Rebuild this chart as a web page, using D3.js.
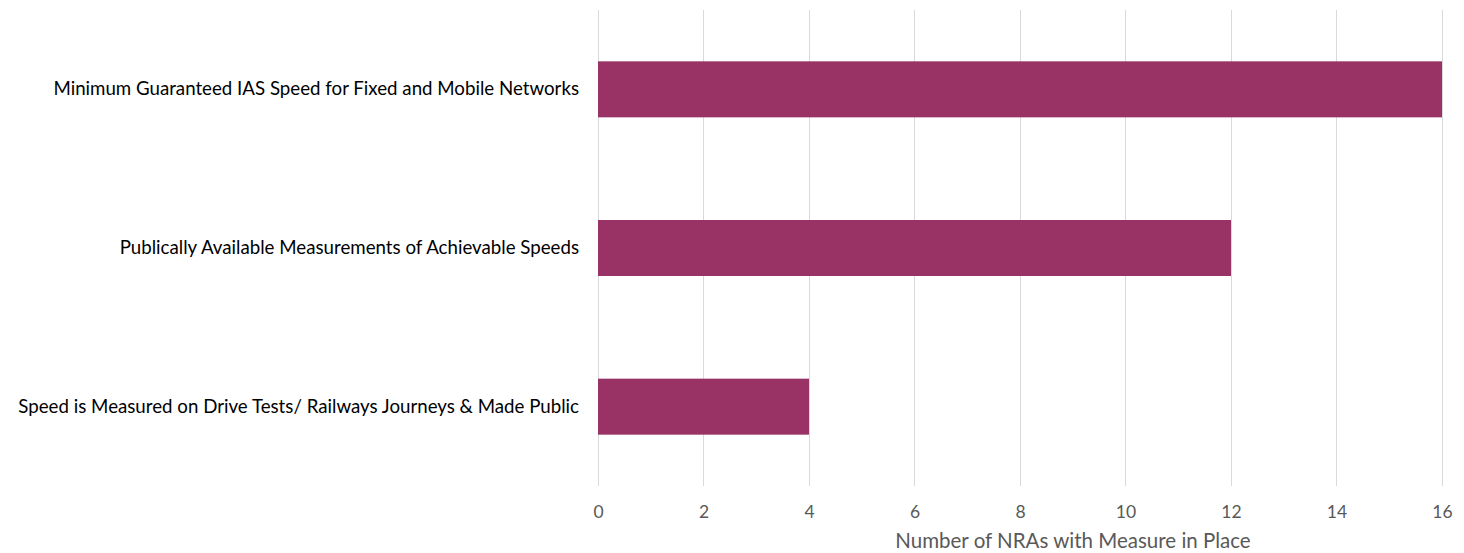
<!DOCTYPE html>
<html>
<head>
<meta charset="utf-8">
<script src="https://cdn.jsdelivr.net/npm/d3@7/dist/d3.min.js"></script>
<style>
  html, body { margin: 0; padding: 0; background: #fff; }
  svg { display: block; font-family: Lato, "Open Sans", sans-serif; }
</style>
</head>
<body>
<svg id="chart" width="1464" height="553"></svg>
<script>
const categories = [
  "Minimum Guaranteed IAS Speed for Fixed and Mobile Networks",
  "Publically Available Measurements of Achievable Speeds",
  "Speed is Measured on Drive Tests/ Railways Journeys & Made Public"
];
const values = [16, 12, 4];
const tickValues = [0, 2, 4, 6, 8, 10, 12, 14, 16];
const axisTitle = "Number of NRAs with Measure in Place";

const svg = d3.select("#chart");
const plot = { left: 598, right: 1442, top: 10, bottom: 486 };

const x = d3.scaleLinear().domain([0, 16]).range([plot.left, plot.right]);
const y = d3.scaleBand().domain(categories).range([plot.top, plot.bottom])
  .paddingInner(0.647).paddingOuter(0.3235);

// vertical gridlines
svg.append("g")
  .selectAll("line")
  .data(tickValues)
  .join("line")
  .attr("x1", d => x(d)).attr("x2", d => x(d))
  .attr("y1", plot.top).attr("y2", plot.bottom)
  .attr("stroke", "#d9d9d9").attr("stroke-width", 1)
  .attr("shape-rendering", "crispEdges");

// bars
svg.append("g")
  .selectAll("rect")
  .data(values)
  .join("rect")
  .attr("x", x(0))
  .attr("y", (d, i) => y(categories[i]))
  .attr("width", d => x(d) - x(0))
  .attr("height", y.bandwidth())
  .attr("fill", "#993366");

// x tick labels
const xAxis = d3.axisBottom(x).tickValues(tickValues).tickSize(0).tickPadding(0);
const gx = svg.append("g").attr("transform", `translate(0,${plot.bottom + 20})`).call(xAxis);
gx.select(".domain").remove();
gx.selectAll("text")
  .attr("fill", "#595959")
  .style("font-size", "17.5px")
  .style("font-family", "Lato, sans-serif");

// category labels
const yAxis = d3.axisLeft(y).tickSize(0).tickPadding(19);
const gy = svg.append("g").attr("transform", `translate(${plot.left},0)`).call(yAxis);
gy.select(".domain").remove();
gy.selectAll("text")
  .attr("fill", "#000")
  .style("font-size", "18.7px")
  .style("font-family", "Lato, sans-serif");

// axis title
svg.append("text")
  .attr("x", 1073).attr("y", 548)
  .attr("text-anchor", "middle")
  .attr("fill", "#595959")
  .style("font-size", "20.5px")
  .text(axisTitle);
</script>
</body>
</html>
